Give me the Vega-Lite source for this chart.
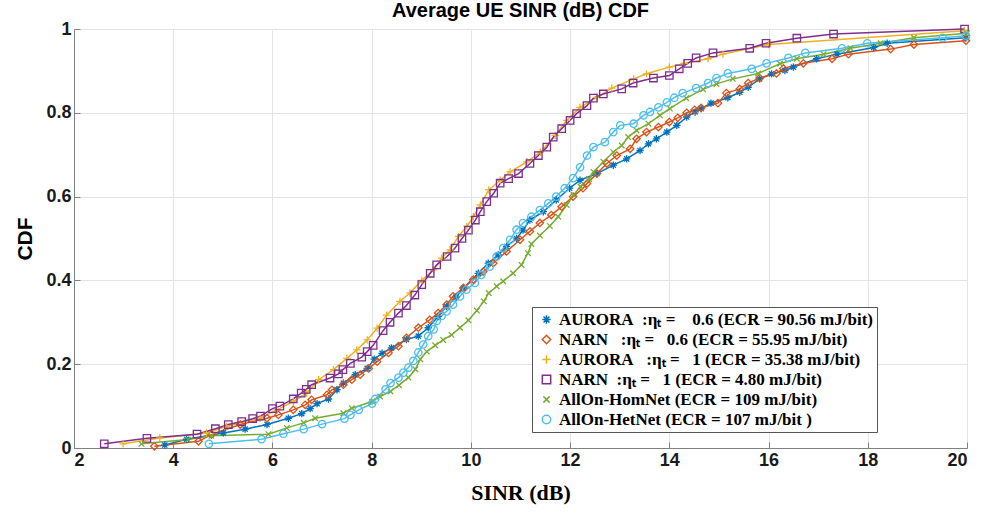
{
  "$schema": "https://vega.github.io/schema/vega-lite/v6.json",
  "width": 893,
  "height": 419,
  "autosize": {"type": "none"},
  "padding": {"left": 74, "top": 29, "right": 17, "bottom": 73},
  "background": "white",
  "title": {"text": "Average UE SINR (dB) CDF", "font": "Liberation Sans", "fontSize": 20, "fontWeight": "bold", "color": "#000", "offset": -1, "anchor": "middle"},
  "config": {
    "view": {"stroke": "#808080", "strokeWidth": 1},
    "axis": {"gridColor": "#e4e4e4", "gridWidth": 1, "domainColor": "#808080", "tickColor": "#808080", "tickSize": -6, "labelFont": "Liberation Sans", "labelFontWeight": "bold", "labelFontSize": 18, "labelColor": "#1a1a1a", "labelPadding": 9},
    "legend": {"labelFont": "Liberation Serif", "labelFontWeight": "bold", "labelFontSize": 17, "labelColor": "#000", "labelLimit": 0}
  },
  "data": {"values": [
    {"s":"B","x":3.83,"y":0.007},{"s":"B","x":4.27,"y":0.021},{"s":"B","x":5.01,"y":0.036},{"s":"B","x":5.45,"y":0.045},{"s":"B","x":5.89,"y":0.056},{"s":"B","x":6.32,"y":0.071},{"s":"B","x":6.59,"y":0.082},{"s":"B","x":6.76,"y":0.094},{"s":"B","x":6.90,"y":0.106},{"s":"B","x":7.13,"y":0.117},{"s":"B","x":7.30,"y":0.139},{"s":"B","x":7.43,"y":0.155},{"s":"B","x":7.67,"y":0.175},{"s":"B","x":7.91,"y":0.19},{"s":"B","x":8.05,"y":0.212},{"s":"B","x":8.21,"y":0.226},{"s":"B","x":8.40,"y":0.239},{"s":"B","x":8.70,"y":0.259},{"s":"B","x":8.94,"y":0.267},{"s":"B","x":9.14,"y":0.287},{"s":"B","x":9.34,"y":0.314},{"s":"B","x":9.51,"y":0.338},{"s":"B","x":9.70,"y":0.36},{"s":"B","x":9.85,"y":0.382},{"s":"B","x":10.15,"y":0.417},{"s":"B","x":10.35,"y":0.441},{"s":"B","x":10.55,"y":0.461},{"s":"B","x":10.72,"y":0.481},{"s":"B","x":10.92,"y":0.50},{"s":"B","x":11.05,"y":0.52},{"s":"B","x":11.19,"y":0.544},{"s":"B","x":11.46,"y":0.564},{"s":"B","x":11.72,"y":0.592},{"s":"B","x":11.99,"y":0.62},{"s":"B","x":12.20,"y":0.639},{"s":"B","x":12.54,"y":0.655},{"s":"B","x":12.87,"y":0.675},{"s":"B","x":13.14,"y":0.69},{"s":"B","x":13.41,"y":0.71},{"s":"B","x":13.58,"y":0.726},{"s":"B","x":13.74,"y":0.738},{"s":"B","x":13.95,"y":0.754},{"s":"B","x":14.15,"y":0.77},{"s":"B","x":14.35,"y":0.79},{"s":"B","x":14.52,"y":0.802},{"s":"B","x":14.64,"y":0.81},{"s":"B","x":14.84,"y":0.823},{"s":"B","x":15.18,"y":0.836},{"s":"B","x":15.42,"y":0.849},{"s":"B","x":15.59,"y":0.861},{"s":"B","x":15.82,"y":0.881},{"s":"B","x":16.06,"y":0.893},{"s":"B","x":16.33,"y":0.901},{"s":"B","x":16.5,"y":0.909},{"s":"B","x":16.97,"y":0.929},{"s":"B","x":17.38,"y":0.94},{"s":"B","x":18.12,"y":0.956},{"s":"B","x":18.39,"y":0.966},{"s":"B","x":19.98,"y":0.979},
    {"s":"R","x":3.62,"y":0.004},{"s":"R","x":4.51,"y":0.016},{"s":"R","x":4.77,"y":0.032},{"s":"R","x":5.35,"y":0.056},{"s":"R","x":5.89,"y":0.071},{"s":"R","x":6.12,"y":0.079},{"s":"R","x":6.42,"y":0.091},{"s":"R","x":6.66,"y":0.103},{"s":"R","x":6.79,"y":0.115},{"s":"R","x":7.10,"y":0.127},{"s":"R","x":7.20,"y":0.139},{"s":"R","x":7.43,"y":0.151},{"s":"R","x":7.60,"y":0.163},{"s":"R","x":7.77,"y":0.175},{"s":"R","x":7.94,"y":0.19},{"s":"R","x":8.11,"y":0.206},{"s":"R","x":8.34,"y":0.227},{"s":"R","x":8.54,"y":0.243},{"s":"R","x":8.70,"y":0.263},{"s":"R","x":8.94,"y":0.287},{"s":"R","x":9.17,"y":0.306},{"s":"R","x":9.34,"y":0.322},{"s":"R","x":9.51,"y":0.342},{"s":"R","x":9.64,"y":0.362},{"s":"R","x":9.85,"y":0.382},{"s":"R","x":10.05,"y":0.402},{"s":"R","x":10.25,"y":0.421},{"s":"R","x":10.45,"y":0.441},{"s":"R","x":10.72,"y":0.469},{"s":"R","x":10.99,"y":0.497},{"s":"R","x":11.19,"y":0.517},{"s":"R","x":11.39,"y":0.537},{"s":"R","x":11.62,"y":0.556},{"s":"R","x":11.83,"y":0.576},{"s":"R","x":12.06,"y":0.60},{"s":"R","x":12.26,"y":0.62},{"s":"R","x":12.34,"y":0.631},{"s":"R","x":12.54,"y":0.655},{"s":"R","x":12.74,"y":0.679},{"s":"R","x":12.94,"y":0.698},{"s":"R","x":13.21,"y":0.714},{"s":"R","x":13.34,"y":0.738},{"s":"R","x":13.54,"y":0.754},{"s":"R","x":13.78,"y":0.766},{"s":"R","x":14.0,"y":0.778},{"s":"R","x":14.17,"y":0.788},{"s":"R","x":14.35,"y":0.80},{"s":"R","x":14.51,"y":0.807},{"s":"R","x":14.64,"y":0.812},{"s":"R","x":14.98,"y":0.823},{"s":"R","x":15.15,"y":0.847},{"s":"R","x":15.42,"y":0.857},{"s":"R","x":15.59,"y":0.871},{"s":"R","x":15.82,"y":0.883},{"s":"R","x":16.16,"y":0.894},{"s":"R","x":16.30,"y":0.906},{"s":"R","x":16.70,"y":0.918},{"s":"R","x":17.28,"y":0.929},{"s":"R","x":17.61,"y":0.94},{"s":"R","x":18.46,"y":0.952},{"s":"R","x":18.93,"y":0.963},{"s":"R","x":19.98,"y":0.972},
    {"s":"Y","x":2.99,"y":0.01},{"s":"Y","x":3.73,"y":0.024},{"s":"Y","x":4.67,"y":0.036},{"s":"Y","x":5.08,"y":0.052},{"s":"Y","x":5.75,"y":0.071},{"s":"Y","x":6.09,"y":0.091},{"s":"Y","x":6.42,"y":0.111},{"s":"Y","x":6.69,"y":0.131},{"s":"Y","x":6.93,"y":0.163},{"s":"Y","x":7.23,"y":0.187},{"s":"Y","x":7.50,"y":0.214},{"s":"Y","x":7.70,"y":0.234},{"s":"Y","x":7.91,"y":0.258},{"s":"Y","x":8.11,"y":0.286},{"s":"Y","x":8.30,"y":0.317},{"s":"Y","x":8.57,"y":0.35},{"s":"Y","x":8.77,"y":0.37},{"s":"Y","x":9.01,"y":0.40},{"s":"Y","x":9.25,"y":0.425},{"s":"Y","x":9.41,"y":0.453},{"s":"Y","x":9.58,"y":0.473},{"s":"Y","x":9.75,"y":0.505},{"s":"Y","x":9.92,"y":0.529},{"s":"Y","x":10.05,"y":0.552},{"s":"Y","x":10.19,"y":0.58},{"s":"Y","x":10.36,"y":0.616},{"s":"Y","x":10.59,"y":0.639},{"s":"Y","x":10.79,"y":0.659},{"s":"Y","x":11.13,"y":0.683},{"s":"Y","x":11.40,"y":0.706},{"s":"Y","x":11.70,"y":0.746},{"s":"Y","x":11.93,"y":0.782},{"s":"Y","x":12.20,"y":0.813},{"s":"Y","x":12.54,"y":0.837},{"s":"Y","x":12.84,"y":0.859},{"s":"Y","x":13.28,"y":0.881},{"s":"Y","x":13.54,"y":0.893},{"s":"Y","x":14.0,"y":0.909},{"s":"Y","x":14.30,"y":0.918},{"s":"Y","x":14.78,"y":0.929},{"s":"Y","x":15.08,"y":0.94},{"s":"Y","x":16.0,"y":0.963},{"s":"Y","x":19.95,"y":0.996},
    {"s":"P","x":2.61,"y":0.010},{"s":"P","x":3.47,"y":0.023},{"s":"P","x":4.48,"y":0.033},{"s":"P","x":4.85,"y":0.046},{"s":"P","x":5.11,"y":0.056},{"s":"P","x":5.38,"y":0.063},{"s":"P","x":5.60,"y":0.070},{"s":"P","x":5.76,"y":0.076},{"s":"P","x":6.0,"y":0.094},{"s":"P","x":6.15,"y":0.10},{"s":"P","x":6.42,"y":0.117},{"s":"P","x":6.58,"y":0.131},{"s":"P","x":6.68,"y":0.140},{"s":"P","x":6.79,"y":0.151},{"s":"P","x":7.16,"y":0.167},{"s":"P","x":7.33,"y":0.177},{"s":"P","x":7.42,"y":0.187},{"s":"P","x":7.57,"y":0.202},{"s":"P","x":7.80,"y":0.217},{"s":"P","x":7.91,"y":0.230},{"s":"P","x":8.03,"y":0.245},{"s":"P","x":8.23,"y":0.28},{"s":"P","x":8.37,"y":0.30},{"s":"P","x":8.54,"y":0.322},{"s":"P","x":8.70,"y":0.34},{"s":"P","x":8.87,"y":0.365},{"s":"P","x":9.01,"y":0.39},{"s":"P","x":9.18,"y":0.417},{"s":"P","x":9.31,"y":0.437},{"s":"P","x":9.52,"y":0.457},{"s":"P","x":9.68,"y":0.477},{"s":"P","x":9.82,"y":0.50},{"s":"P","x":9.95,"y":0.52},{"s":"P","x":10.09,"y":0.544},{"s":"P","x":10.19,"y":0.564},{"s":"P","x":10.32,"y":0.588},{"s":"P","x":10.46,"y":0.608},{"s":"P","x":10.59,"y":0.632},{"s":"P","x":10.76,"y":0.643},{"s":"P","x":10.96,"y":0.655},{"s":"P","x":11.19,"y":0.679},{"s":"P","x":11.36,"y":0.698},{"s":"P","x":11.53,"y":0.718},{"s":"P","x":11.66,"y":0.742},{"s":"P","x":11.83,"y":0.762},{"s":"P","x":12.0,"y":0.782},{"s":"P","x":12.13,"y":0.798},{"s":"P","x":12.34,"y":0.817},{"s":"P","x":12.47,"y":0.835},{"s":"P","x":12.67,"y":0.845},{"s":"P","x":13.04,"y":0.857},{"s":"P","x":13.27,"y":0.871},{"s":"P","x":13.68,"y":0.883},{"s":"P","x":14.0,"y":0.889},{"s":"P","x":14.2,"y":0.905},{"s":"P","x":14.37,"y":0.918},{"s":"P","x":14.54,"y":0.931},{"s":"P","x":14.88,"y":0.943},{"s":"P","x":15.62,"y":0.954},{"s":"P","x":15.95,"y":0.966},{"s":"P","x":16.57,"y":0.978},{"s":"P","x":17.31,"y":0.988},{"s":"P","x":19.95,"y":1.0},
    {"s":"G","x":3.36,"y":0.01},{"s":"G","x":4.30,"y":0.02},{"s":"G","x":4.77,"y":0.029},{"s":"G","x":5.92,"y":0.033},{"s":"G","x":6.29,"y":0.048},{"s":"G","x":6.63,"y":0.06},{"s":"G","x":6.86,"y":0.071},{"s":"G","x":7.43,"y":0.083},{"s":"G","x":7.60,"y":0.095},{"s":"G","x":8.01,"y":0.111},{"s":"G","x":8.17,"y":0.123},{"s":"G","x":8.38,"y":0.135},{"s":"G","x":8.55,"y":0.15},{"s":"G","x":8.74,"y":0.168},{"s":"G","x":8.88,"y":0.188},{"s":"G","x":8.98,"y":0.212},{"s":"G","x":9.11,"y":0.23},{"s":"G","x":9.28,"y":0.245},{"s":"G","x":9.44,"y":0.258},{"s":"G","x":9.61,"y":0.27},{"s":"G","x":9.78,"y":0.287},{"s":"G","x":9.95,"y":0.305},{"s":"G","x":10.12,"y":0.328},{"s":"G","x":10.26,"y":0.35},{"s":"G","x":10.36,"y":0.37},{"s":"G","x":10.52,"y":0.386},{"s":"G","x":10.65,"y":0.398},{"s":"G","x":10.85,"y":0.417},{"s":"G","x":11.02,"y":0.437},{"s":"G","x":11.15,"y":0.465},{"s":"G","x":11.22,"y":0.487},{"s":"G","x":11.39,"y":0.507},{"s":"G","x":11.59,"y":0.53},{"s":"G","x":11.76,"y":0.552},{"s":"G","x":11.93,"y":0.58},{"s":"G","x":12.07,"y":0.604},{"s":"G","x":12.21,"y":0.624},{"s":"G","x":12.38,"y":0.642},{"s":"G","x":12.47,"y":0.659},{"s":"G","x":12.67,"y":0.683},{"s":"G","x":12.87,"y":0.706},{"s":"G","x":13.04,"y":0.722},{"s":"G","x":13.17,"y":0.742},{"s":"G","x":13.34,"y":0.758},{"s":"G","x":13.58,"y":0.774},{"s":"G","x":13.81,"y":0.794},{"s":"G","x":14.01,"y":0.81},{"s":"G","x":14.34,"y":0.835},{"s":"G","x":14.68,"y":0.856},{"s":"G","x":14.95,"y":0.869},{"s":"G","x":15.28,"y":0.881},{"s":"G","x":15.79,"y":0.894},{"s":"G","x":16.23,"y":0.917},{"s":"G","x":16.57,"y":0.929},{"s":"G","x":17.11,"y":0.94},{"s":"G","x":17.65,"y":0.954},{"s":"G","x":18.26,"y":0.966},{"s":"G","x":18.93,"y":0.979},{"s":"G","x":20.0,"y":0.99},
    {"s":"C","x":4.72,"y":0.01},{"s":"C","x":5.78,"y":0.021},{"s":"C","x":6.22,"y":0.034},{"s":"C","x":6.63,"y":0.045},{"s":"C","x":7.0,"y":0.057},{"s":"C","x":7.45,"y":0.07},{"s":"C","x":7.57,"y":0.079},{"s":"C","x":7.74,"y":0.091},{"s":"C","x":8.01,"y":0.106},{"s":"C","x":8.07,"y":0.117},{"s":"C","x":8.28,"y":0.14},{"s":"C","x":8.38,"y":0.155},{"s":"C","x":8.54,"y":0.168},{"s":"C","x":8.64,"y":0.18},{"s":"C","x":8.74,"y":0.192},{"s":"C","x":8.84,"y":0.208},{"s":"C","x":8.94,"y":0.228},{"s":"C","x":9.04,"y":0.247},{"s":"C","x":9.14,"y":0.267},{"s":"C","x":9.25,"y":0.283},{"s":"C","x":9.31,"y":0.303},{"s":"C","x":9.41,"y":0.315},{"s":"C","x":9.51,"y":0.326},{"s":"C","x":9.64,"y":0.342},{"s":"C","x":9.78,"y":0.362},{"s":"C","x":9.91,"y":0.378},{"s":"C","x":10.08,"y":0.394},{"s":"C","x":10.21,"y":0.413},{"s":"C","x":10.38,"y":0.433},{"s":"C","x":10.52,"y":0.457},{"s":"C","x":10.65,"y":0.477},{"s":"C","x":10.79,"y":0.497},{"s":"C","x":10.92,"y":0.521},{"s":"C","x":11.05,"y":0.537},{"s":"C","x":11.22,"y":0.552},{"s":"C","x":11.39,"y":0.568},{"s":"C","x":11.56,"y":0.584},{"s":"C","x":11.72,"y":0.60},{"s":"C","x":11.89,"y":0.62},{"s":"C","x":12.06,"y":0.644},{"s":"C","x":12.20,"y":0.67},{"s":"C","x":12.34,"y":0.698},{"s":"C","x":12.47,"y":0.718},{"s":"C","x":12.70,"y":0.73},{"s":"C","x":12.87,"y":0.754},{"s":"C","x":13.01,"y":0.77},{"s":"C","x":13.28,"y":0.774},{"s":"C","x":13.48,"y":0.794},{"s":"C","x":13.61,"y":0.802},{"s":"C","x":13.78,"y":0.813},{"s":"C","x":13.95,"y":0.825},{"s":"C","x":14.1,"y":0.836},{"s":"C","x":14.27,"y":0.847},{"s":"C","x":14.54,"y":0.859},{"s":"C","x":14.78,"y":0.871},{"s":"C","x":14.95,"y":0.883},{"s":"C","x":15.18,"y":0.894},{"s":"C","x":15.66,"y":0.905},{"s":"C","x":15.96,"y":0.918},{"s":"C","x":16.40,"y":0.931},{"s":"C","x":16.74,"y":0.943},{"s":"C","x":17.48,"y":0.954},{"s":"C","x":17.99,"y":0.966},{"s":"C","x":19.51,"y":0.979},{"s":"C","x":19.98,"y":0.984}
  ]},
  "encoding": {
    "x": {"field": "x", "type": "quantitative", "scale": {"domain": [2, 20], "nice": false},
      "axis": {"values": [2,4,6,8,10,12,14,16,18,20], "title": "SINR (dB)", "titleFont": "Liberation Serif", "titleFontSize": 22, "titleFontWeight": "bold", "titleColor": "#000", "titlePadding": 13}},
    "y": {"field": "y", "type": "quantitative", "scale": {"domain": [0, 1], "nice": false},
      "axis": {"values": [0,0.2,0.4,0.6,0.8,1], "format": "~g", "title": "CDF", "titleFont": "Liberation Sans", "titleFontSize": 21, "titleFontWeight": "bold", "titleColor": "#000", "titlePadding": 10}},
    "color": {"field": "s", "type": "nominal",
      "scale": {"domain": ["B","R","Y","P","G","C"], "range": ["#0072BD","#D95319","#EDB120","#7E2F8E","#77AC30","#4DBEEE"]},
      "legend": {"title": null, "orient": "none", "legendX": 458, "legendY": 278, "fillColor": "white", "strokeColor": "#555", "padding": 4, "rowPadding": 2, "symbolSize": 70, "symbolStrokeWidth": 1.5, "symbolOffset": 2,
        "labelExpr": "datum.value == 'B' ? 'AURORA\u00a0\u00a0:ηₜ =\u00a0\u00a0\u00a0\u00a00.6 (ECR = 90.56 mJ/bit)' : datum.value == 'R' ? 'NARN\u00a0\u00a0\u00a0:ηₜ =\u00a0\u00a0\u00a00.6 (ECR = 55.95 mJ/bit)' : datum.value == 'Y' ? 'AURORA\u00a0\u00a0\u00a0:ηₜ =\u00a0\u00a0\u00a01 (ECR = 35.38 mJ/bit)' : datum.value == 'P' ? 'NARN\u00a0\u00a0:ηₜ =\u00a0\u00a0\u00a01 (ECR = 4.80 mJ/bit)' : datum.value == 'G' ? 'AllOn-HomNet (ECR = 109 mJ/bit)' : 'AllOn-HetNet (ECR = 107 mJ/bit )'"}}
  },
  "layer": [
    {"mark": {"type": "line", "strokeWidth": 1.5}},
    {"mark": {"type": "point", "filled": false, "strokeWidth": 1.3, "size": 55, "opacity": 1},
      "encoding": {"shape": {"field": "s", "type": "nominal",
        "scale": {"domain": ["B","R","Y","P","G","C"], "range": ["M-1,0L1,0M0,-1L0,1M-0.7,-0.7L0.7,0.7M-0.7,0.7L0.7,-0.7", "diamond", "M-1,0L1,0M0,-1L0,1", "square", "M-0.75,-0.75L0.75,0.75M-0.75,0.75L0.75,-0.75", "circle"]},
        "legend": {"title": null, "orient": "none", "legendX": 458, "legendY": 278}}}}
  ]
}
